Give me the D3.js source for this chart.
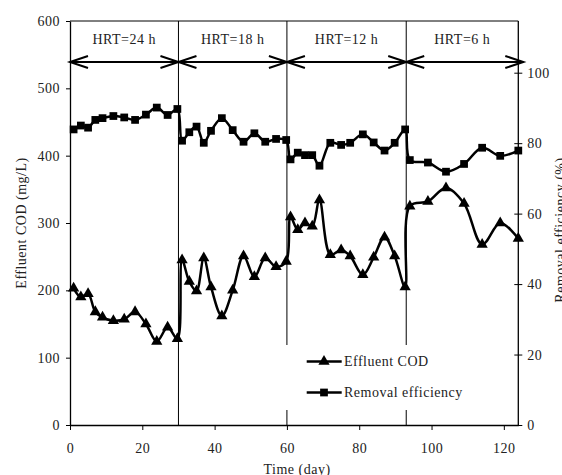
<!DOCTYPE html>
<html>
    <head>
        <meta charset="utf-8">
        <style>
          body { margin: 0; background: #fff; }
          text { font-family: "Liberation Serif", "Times New Roman", serif; letter-spacing: 0.5px; }
        </style>
    </head>
    <body>
        <svg width="562" height="475"></svg>
        <script src="https://cdn.jsdelivr.net/npm/d3@7"></script>
        <script>
          // sampling days
          var days = [1, 3, 5, 7, 9, 12, 15, 18, 21, 24, 27, 29.7,
                      31, 33, 35, 37, 39, 42, 45, 48, 51, 54, 57, 59.8,
                      61, 63, 65, 67, 69, 72, 75, 77.5, 81, 84, 87, 89.8, 92.7,
                      94, 99, 104, 109, 114, 119, 124];

          // effluent COD (mg/L)
          var cod = [203, 190, 195, 168, 160, 155, 157, 168, 150, 124, 145, 128,
                     245, 213, 199, 248, 205, 162, 200, 251, 220, 248, 235, 243,
                     309, 290, 300, 295, 334, 253, 260, 251, 223, 249, 279, 251, 205,
                     325, 332, 352, 329, 268, 300, 277];

          // removal efficiency (%)
          var removal = [83.9, 85.0, 84.4, 86.6, 87.1, 87.7, 87.3, 86.6, 88.1, 90.1, 88.0, 89.7,
                         80.7, 83.1, 84.7, 80.1, 83.5, 87.1, 83.7, 80.4, 82.8, 80.4, 81.2, 80.9,
                         75.4, 77.3, 76.6, 76.6, 73.6, 80.1, 79.5, 80.1, 82.5, 80.2, 77.9, 80.1, 83.9,
                         75.2, 74.5, 71.9, 74.1, 78.7, 76.4, 77.9];

          // HRT periods
          var hrtLabels = ["HRT=24 h", "HRT=18 h", "HRT=12 h", "HRT=6 h"];
          var hrtBounds = [0, 30, 60, 93, 124];

          var xTicks = [0, 20, 40, 60, 80, 100, 120];
          var yTicks = [0, 100, 200, 300, 400, 500, 600];
          var y2Ticks = [0, 20, 40, 60, 80, 100];

          var data = days.map(function(d, i) {
            return {day: d, cod: cod[i], removal: removal[i]};
          });

          var svg = d3.select("svg");
          var pLeft = 70, pRight = 518.3, pTop = 21, pBottom = 425;
          var fs = 14;

          var x = d3.scaleLinear().domain([0, 124]).range([pLeft, pRight]);
          var y = d3.scaleLinear().domain([0, 600]).range([pBottom, pTop]);
          var y2 = d3.scaleLinear().domain([0, 100]).range([pBottom, 72.7]);

          // top border
          svg.append("line")
            .attr("x1", pLeft).attr("x2", pRight)
            .attr("y1", pTop).attr("y2", pTop)
            .attr("stroke", "#000").attr("stroke-width", 1);

          // period separators
          svg.selectAll(".sep")
            .data(hrtBounds.slice(1, 4))
            .enter().append("line")
            .attr("x1", function(d) { return x(d); })
            .attr("x2", function(d) { return x(d); })
            .attr("y1", pTop).attr("y2", pBottom)
            .attr("stroke", "#000").attr("stroke-width", 1);

          // axes
          var xAxis = svg.append("g")
            .attr("transform", "translate(0," + pBottom + ")")
            .call(d3.axisBottom(x).tickValues(xTicks).tickSize(5).tickSizeOuter(0));
          xAxis.selectAll("text").attr("y", 18);

          var lAxis = svg.append("g")
            .attr("transform", "translate(" + pLeft + ",0)")
            .call(d3.axisLeft(y).tickValues(yTicks).tickSize(4).tickSizeOuter(0));
          lAxis.selectAll("text").attr("x", -10);

          var rAxis = svg.append("g")
            .attr("transform", "translate(" + pRight + ",0)")
            .call(d3.axisRight(y2).tickValues(y2Ticks).tickSize(4).tickSizeOuter(0));
          rAxis.select(".domain").attr("d", "M0," + pTop + "V" + pBottom);
          rAxis.selectAll(".tick line").attr("x1", -4);
          rAxis.selectAll("text").attr("x", 9);

          svg.selectAll(".domain").attr("stroke-width", 1.3);
          svg.selectAll(".tick text")
            .attr("font-size", fs)
            .attr("font-family", "Liberation Serif")
            .attr("fill", "#222");

          // axis titles
          svg.append("text")
            .attr("transform", "translate(26,223) rotate(-90)")
            .attr("text-anchor", "middle")
            .attr("font-size", fs).attr("fill", "#222")
            .text("Effluent COD (mg/L)");

          svg.append("text")
            .attr("transform", "translate(565,230) rotate(-90)")
            .attr("text-anchor", "middle")
            .attr("font-size", fs).attr("fill", "#222")
            .text("Removal efficiency (%)");

          svg.append("text")
            .attr("x", 297).attr("y", 474)
            .attr("text-anchor", "middle")
            .attr("font-size", fs).attr("fill", "#222")
            .text("Time (day)");

          // HRT arrows and labels
          function arrowHead(g, tipX, dir) {
            g.append("path")
              .attr("d", "M" + (tipX + dir * 18) + ",56 L" + tipX + ",62 L" + (tipX + dir * 18) + ",68")
              .attr("fill", "none").attr("stroke", "#000").attr("stroke-width", 2);
          }
          hrtLabels.forEach(function(lab, i) {
            var x0 = x(hrtBounds[i]), x1 = x(hrtBounds[i + 1]);
            if (i == 3) x1 = x1 + 5;
            var g = svg.append("g");
            g.append("line")
              .attr("x1", x0).attr("x2", x1)
              .attr("y1", 62).attr("y2", 62)
              .attr("stroke", "#000").attr("stroke-width", 2);
            arrowHead(g, x0, 1);
            arrowHead(g, x1, -1);
            g.append("text")
              .attr("x", (x(hrtBounds[i]) + x(hrtBounds[i + 1])) / 2)
              .attr("y", 44)
              .attr("text-anchor", "middle")
              .attr("font-size", fs).attr("fill", "#222")
              .text(lab);
          });

          // legend background (hides separators)
          svg.append("rect")
            .attr("x", 282).attr("y", 345)
            .attr("width", 188).attr("height", 65)
            .attr("fill", "#fff");

          var curve = d3.curveCatmullRom.alpha(0.5);

          var codLine = d3.line()
            .x(function(d) { return x(d.day); })
            .y(function(d) { return y(d.cod); })
            .curve(curve);

          var remLine = d3.line()
            .x(function(d) { return x(d.day); })
            .y(function(d) { return y2(d.removal); })
            .curve(curve);

          svg.append("path")
            .datum(data)
            .attr("fill", "none")
            .attr("stroke", "#000")
            .attr("stroke-width", 2.5)
            .attr("d", codLine);

          svg.append("path")
            .datum(data)
            .attr("fill", "none")
            .attr("stroke", "#000")
            .attr("stroke-width", 2.5)
            .attr("d", remLine);

          var tri = d3.symbol().type(d3.symbolTriangle).size(55);
          var sq = d3.symbol().type(d3.symbolSquare).size(60);

          svg.selectAll(".tri")
            .data(data)
            .enter().append("path")
            .attr("d", tri)
            .attr("transform", function(d) { return "translate(" + x(d.day) + "," + y(d.cod) + ")"; })
            .attr("fill", "#000");

          svg.selectAll(".sq")
            .data(data)
            .enter().append("path")
            .attr("d", sq)
            .attr("transform", function(d) { return "translate(" + x(d.day) + "," + y2(d.removal) + ")"; })
            .attr("fill", "#000");

          // legend
          var legend = [{name: "Effluent COD", sym: tri, y: 361.5},
                        {name: "Removal efficiency", sym: sq, y: 392.5}];
          var lg = svg.selectAll(".lg")
            .data(legend)
            .enter().append("g")
            .attr("transform", function(d) { return "translate(0," + d.y + ")"; });
          lg.append("line")
            .attr("x1", 306.7).attr("x2", 341.7)
            .attr("stroke", "#000").attr("stroke-width", 2.5);
          lg.append("path")
            .attr("d", function(d) { return d.sym(); })
            .attr("transform", "translate(324,0)")
            .attr("fill", "#000");
          lg.append("text")
            .attr("x", 344).attr("y", 4.5)
            .attr("font-size", fs).attr("fill", "#222")
            .text(function(d) { return d.name; });
        </script>
    </body>
</html>
